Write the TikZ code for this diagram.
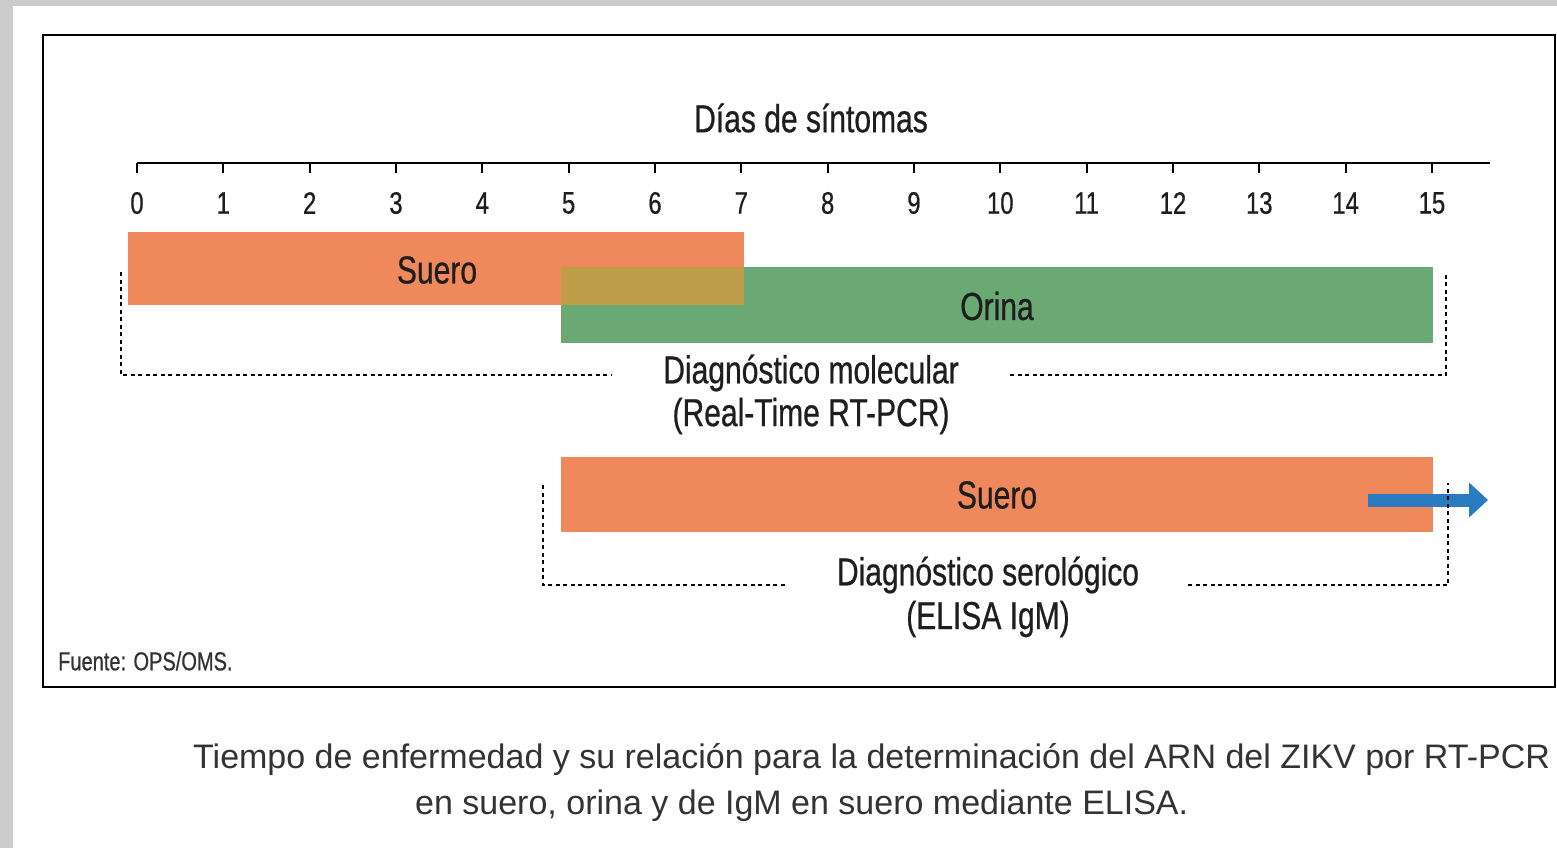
\documentclass[tikz,border=0pt]{standalone}
\usepackage{fontspec}
\setmainfont{Liberation Sans}
\newfontfamily\cond[FakeStretch=0.77,FakeBold=0.6]{Liberation Sans}
\usetikzlibrary{arrows.meta,positioning,calc}
\definecolor{colsuero}{HTML}{EF885B}
\definecolor{colorina}{HTML}{6AA874}
\definecolor{colmezcla}{HTML}{BE9E49}
\definecolor{colflecha}{HTML}{2A7BC0}
\definecolor{colfondo}{HTML}{CCCCCC}
\definecolor{coltexto}{HTML}{333333}
\definecolor{colrotulo}{HTML}{1E1E1E}

\begin{document}
\begin{tikzpicture}[
  x=1pt, y=-1pt,
  rotulo/.style={font=\cond\fontsize{39}{44}\selectfont,inner sep=0pt,colrotulo},
  cifra/.style={font=\cond\fontsize{31}{36}\selectfont,inner sep=0pt,colrotulo},
  punteado/.style={line width=2.6pt,dash pattern=on 4pt off 3.5pt},
  flecha/.style={-{Triangle[length=19pt,width=34pt]},line width=13pt,colflecha},
]
  % fondo y marco
  \fill[colfondo] (0,0) rectangle (1557,848);
  \fill[white] (13,6) rectangle (1557,848);
  \useasboundingbox (0,0) rectangle (1557,848);
  \draw[line width=2.4pt] (43,35) rectangle (1555,687);

  % eje de dias: dia 0 en x=137, 86.33 por dia
  \coordinate (d0) at (137,163);
  \draw[line width=2.2pt] (d0) -- (1490,163);
  \foreach \d in {0,...,15}{
    \draw[line width=2.2pt] ($(d0)+(\d*86.33,0)$) -- ++(0,10);
    \node[cifra] (n\d) at ($(d0)+(\d*86.33,40)$) {\d};
  }
  \node[rotulo] (titulo) at (811,118) {Días de síntomas};

  % barras RT-PCR
  \fill[colsuero] (128,232) rectangle (744,305);
  \fill[colorina] (561,267) rectangle (1433,343);
  \fill[colmezcla] (561,267) rectangle (744,305);
  \node[rotulo] (suero1) at (437,270) {Suero};
  \node[rotulo] (orina) at (997,306) {Orina};

  \node[rotulo] (molec) at (811,373) {Diagnóstico molecular};
  \node[rotulo] (pcr) at (811,416) {(Real-Time RT-PCR)};
  \draw[punteado] (121,272) |- (612,375);
  \draw[punteado] (1010,375) -| (1446,272);

  % barra serologia
  \fill[colsuero] (561,457) rectangle (1433,532);
  \node[rotulo] (suero2) at (997,495) {Suero};
  \coordinate (fA) at (1368,500);
  \coordinate (fB) at (1488,500);
  \draw[flecha] (fA) -- (fB);

  \node[rotulo] (sero) at (988,575) {Diagnóstico serológico};
  \node[rotulo] (elisa) at (988,619) {(ELISA IgM)};
  \draw[punteado] (543,485) |- (785,585);
  \draw[punteado] (1188,585) -| (1448,483);

  \node[font=\cond\fontsize{26}{30}\selectfont,inner sep=0pt,anchor=west,coltexto]
    (fuente) at (58,661) {Fuente: OPS/OMS.};

  % pie de figura
  \node[font=\fontsize{34}{40}\selectfont,inner sep=0pt,anchor=west,coltexto]
    (pie1) at (193,760) {Tiempo de enfermedad y su relación para la determinación del ARN del ZIKV por RT-PCR};
  \node[font=\fontsize{34}{40}\selectfont,inner sep=0pt,anchor=west,coltexto]
    (pie2) at (415,806) {en suero, orina y de IgM en suero mediante ELISA.};
\end{tikzpicture}
\end{document}
